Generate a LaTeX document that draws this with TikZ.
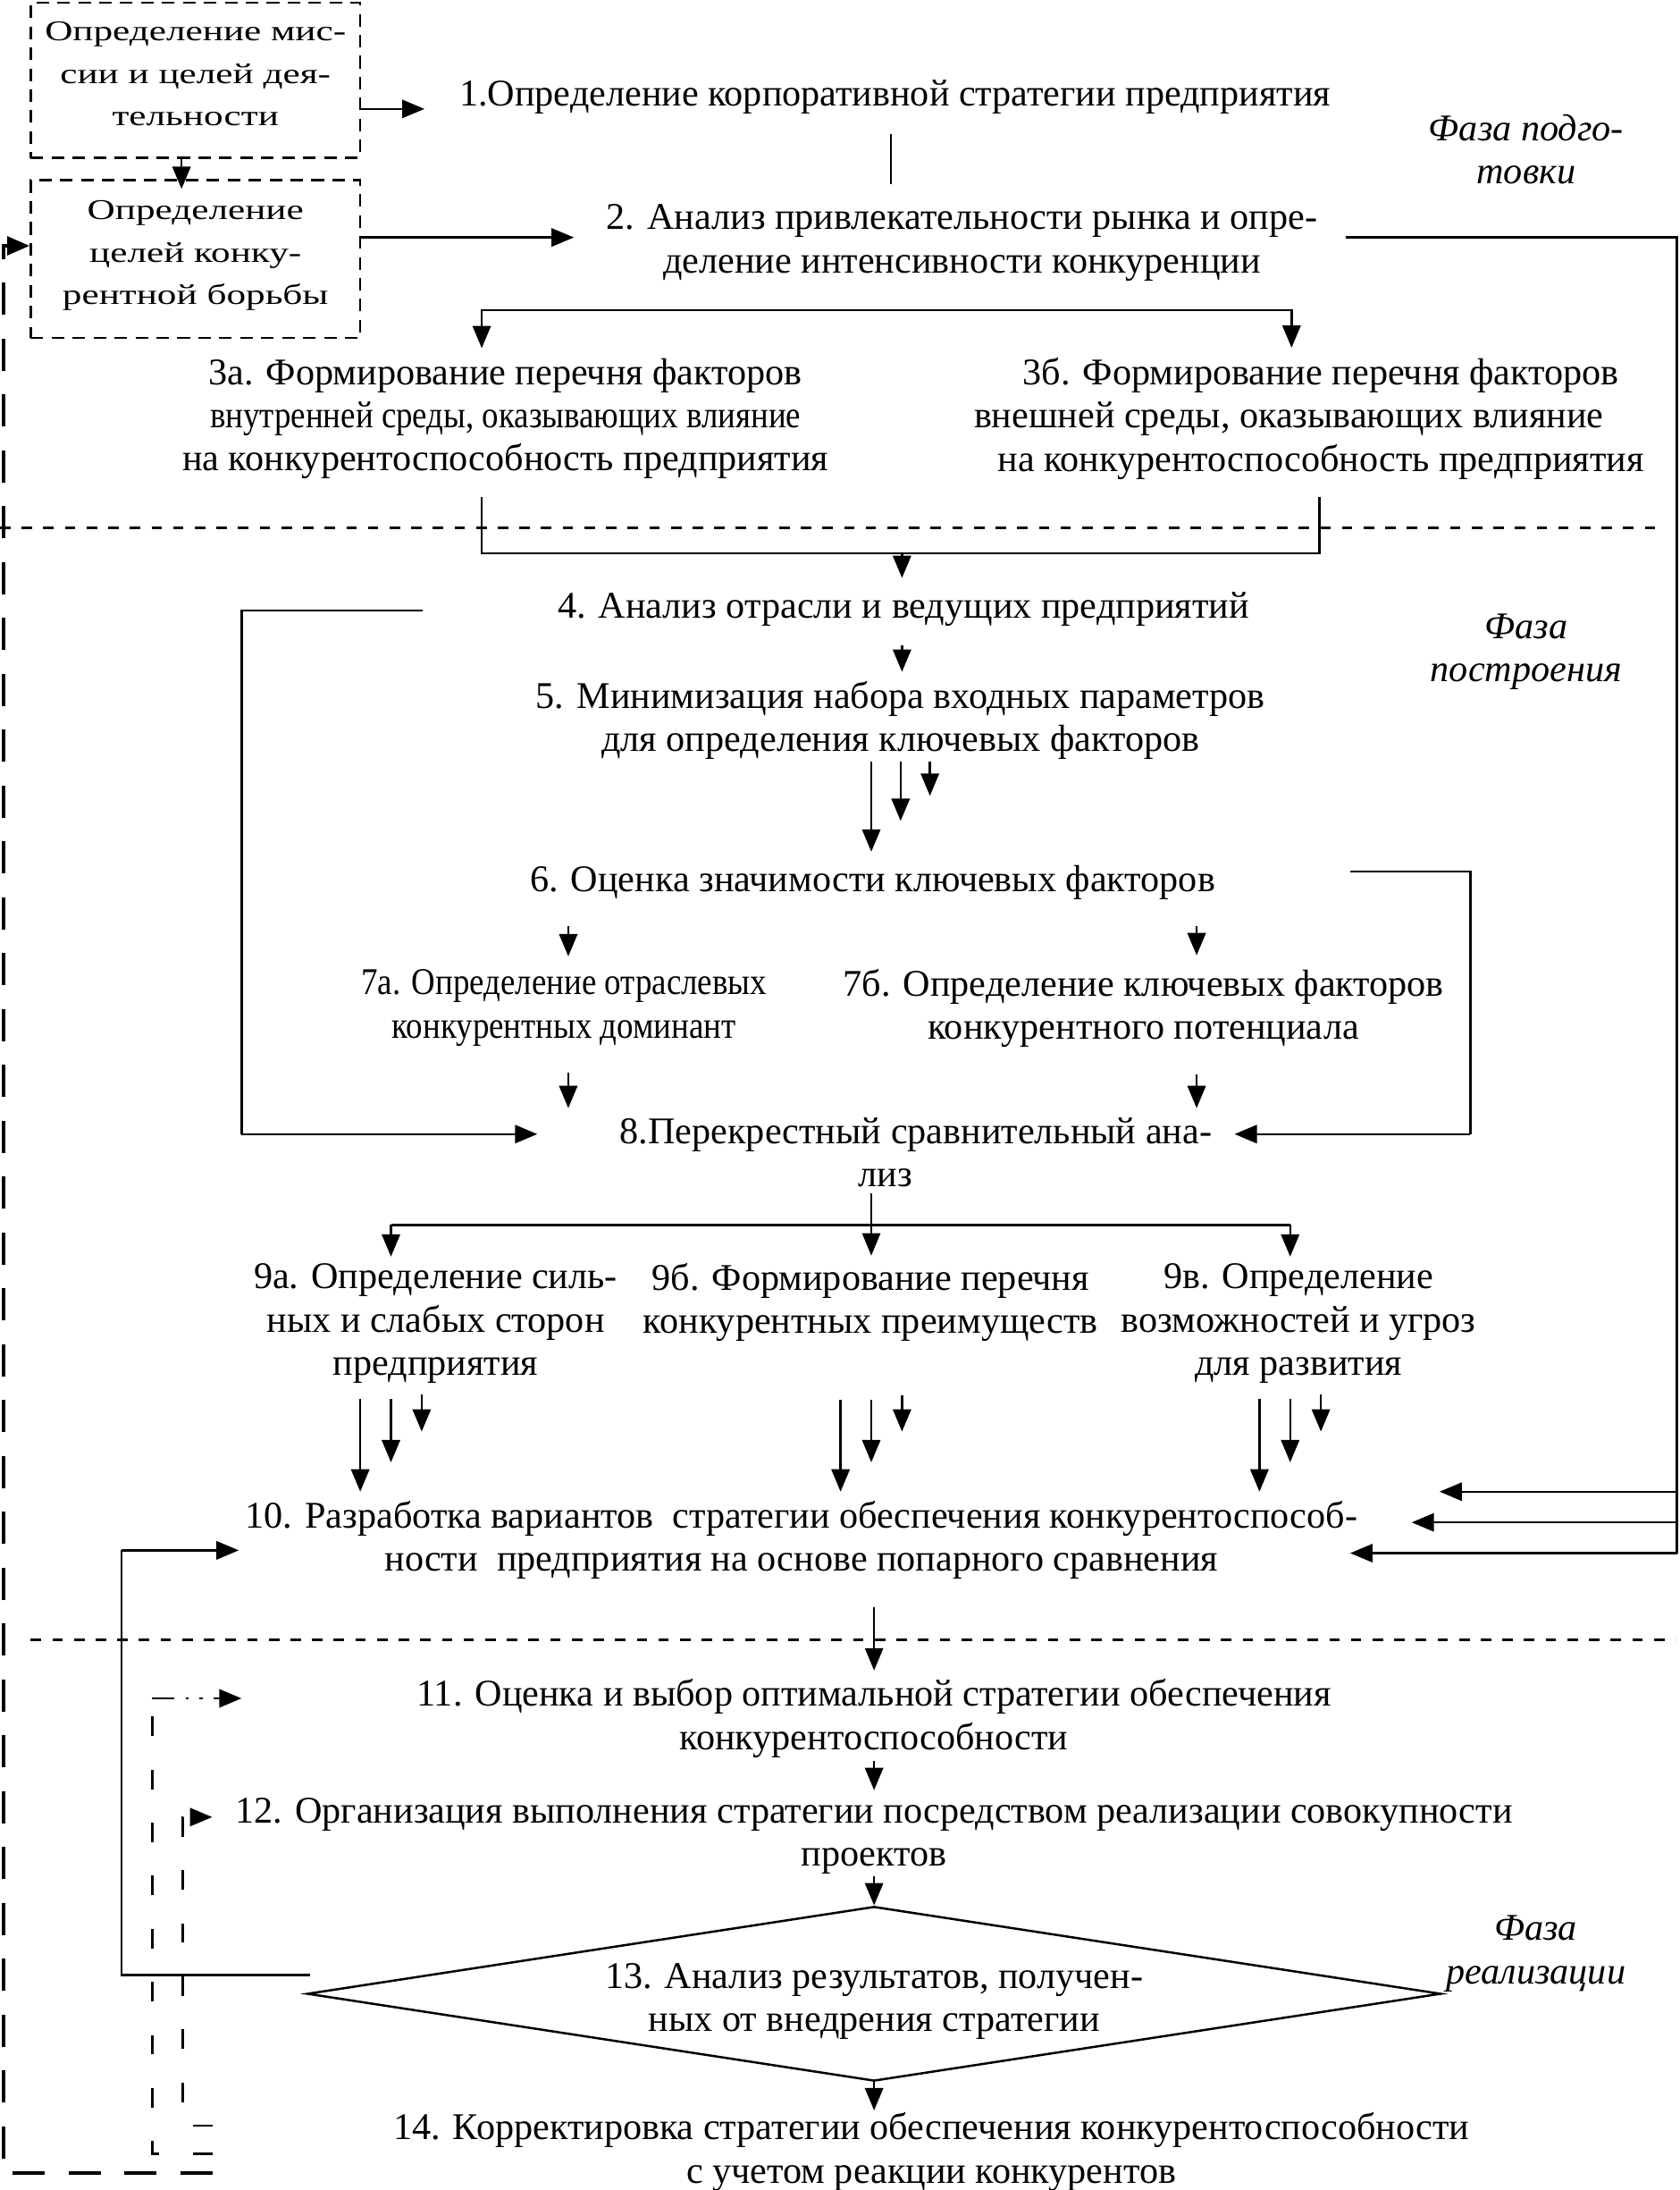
\documentclass[tikz,border=0pt]{standalone}
\usepackage{fontspec}
\setmainfont{Liberation Serif}
\newfontfamily\boxfont{Liberation Serif}[FakeStretch=1.35]
\newfontfamily\condfont{Liberation Serif}[FakeStretch=0.875]
\usetikzlibrary{arrows.meta,shapes.geometric}
\newcommand{\mainfs}{\fontsize{27pt}{31pt}\selectfont}
\newcommand{\boxfs}{\boxfont\fontsize{20.5pt}{30.5pt}\selectfont}
\newcommand{\condfs}{\condfont\fontsize{27pt}{31pt}\selectfont}
\begin{document}
\begin{tikzpicture}[x=1pt,y=-1pt,
  txt/.style={inner sep=0pt, align=center, font=\mainfs, execute at begin node=\strut, execute at end node=\strut},
  ph/.style={txt, font=\mainfs\itshape},
  dbox/.style={draw, line width=1.5pt, dash pattern=on 9pt off 6pt, minimum width=236pt, inner sep=0pt, align=center, font=\boxfs, execute at begin node=\strut, execute at end node=\strut},
  ln/.style={line width=1.6pt},
  tip/.style={-{Triangle[length=16pt,width=13pt]}},
  arr/.style={ln, tip},
  sep/.style={line width=1.5pt, dash pattern=on 7.5pt off 8pt},
  fbthick/.style={line width=2.8pt, dash pattern=on 23pt off 17pt, tip},
  fbdash/.style={line width=1.7pt, dash pattern=on 14pt off 24pt},
  fbdd/.style={line width=1.7pt, dash pattern=on 16pt off 8pt on 2pt off 8pt on 2pt off 8pt, tip},
]
\useasboundingbox (0,0) rectangle (1203,1568);

% ---------- nodes ----------
\node[dbox, minimum height=111pt] (boxA) at (140,57.5) {Определение мис-\\сии и целей дея-\\тельности};
\node[dbox, minimum height=113pt] (boxB) at (140,185.5) {Определение\\целей конку-\\рентной борьбы};
\node[txt] (n1) at (641,69.5) {1.Определение корпоративной стратегии предприятия};
\node[txt] (n2) at (689,175.5) {2. Анализ привлекательности рынка и опре-\\деление интенсивности конкуренции};
\node[txt] (n3a) at (362,301.5) {3а. Формирование перечня факторов\\{\condfs внутренней среды, оказывающих влияние}\\на конкурентоспособность предприятия};
\node[txt] (n3b) at (946,301.5) {3б. Формирование перечня факторов\\внешней среды, оказывающих влияние\hspace*{46pt}\strut\\на конкурентоспособность предприятия};
\node[txt] (n4) at (647,436.5) {4. Анализ отрасли и ведущих предприятий};
\node[txt] (n5) at (645,517.5) {5. Минимизация набора входных параметров\\для определения ключевых факторов};
\node[txt] (n6) at (625,632.5) {6. Оценка значимости ключевых факторов};
\node[txt, font=\condfs] (n7a) at (404,723.5) {7а. Определение отраслевых\\конкурентных доминант};
\node[txt] (n7b) at (819,723.5) {7б. Определение ключевых факторов\\конкурентного потенциала};
\node[txt] (n8) at (656,829.5) {8.Перекрестный сравнительный ана-\\лиз\hspace*{44pt}};
\node[txt] (n9a) at (312,949.5) {9а. Определение силь-\\ных и слабых сторон\\предприятия};
\node[txt] (n9b) at (623.5,934) {9б. Формирование перечня\\конкурентных преимуществ};
\node[txt] (n9c) at (930,949.5) {9в. Определение\\возможностей и угроз\\для развития};
\node[txt] (n10) at (574,1104.5) {10. Разработка вариантов\ \ стратегии обеспечения конкурентоспособ-\\ности\ \ предприятия на основе попарного сравнения};
\node[txt] (n11) at (626,1232) {11. Оценка и выбор оптимальной стратегии обеспечения\\конкурентоспособности};
\node[txt] (n12) at (626,1316.5) {12. Организация выполнения стратегии посредством реализации совокупности\\проектов};
\node[draw, diamond, ln, aspect=6.5, minimum width=812pt, minimum height=125pt, inner sep=0pt, font=\mainfs] (n13) at (626,1427.5)
  {\raisebox{3.8pt}[25pt][25pt]{\begin{tabular}[t]{@{}c@{}}13. Анализ результатов, получен-\\ных от внедрения стратегии\end{tabular}}};
\node[txt] (n14) at (667,1542.5) {14. Корректировка стратегии обеспечения конкурентоспособности\\с учетом реакции конкурентов};
\node[ph] (ph1) at (1093,111.5) {Фаза подго-\\товки};
\node[ph] (ph2) at (1093,468.5) {Фаза\\построения};
\node[ph] (ph3) at (1100,1400.5) {Фаза\\реализации};

% ---------- coordinates ----------
\coordinate (cA1) at (304,78);
\coordinate (x130) at (130,0);
\coordinate (x638) at (638,0);
\coordinate (cB2) at (411,170);
\coordinate (cR) at (1201,170);
\coordinate (cR1) at (1201,1068);
\coordinate (cR2) at (1201,1090);
\coordinate (cR3) at (1201,1112);
\coordinate (t10a) at (1031,1068);
\coordinate (t10b) at (1011,1090);
\coordinate (t10c) at (967,1112);
\coordinate (j2) at (638,222);
\coordinate (x345) at (345,0);
\coordinate (x925) at (925,0);
\coordinate (x945) at (945,0);
\coordinate (j4) at (646,396);
\coordinate (x646) at (646,0);
\coordinate (x624) at (624,0);
\coordinate (x645) at (645,0);
\coordinate (x666) at (666,0);
\coordinate (c4l) at (303,437);
\coordinate (c4c) at (173,437);
\coordinate (c8l) at (173,812);
\coordinate (c6r) at (967,624);
\coordinate (c6c) at (1053,624);
\coordinate (c8r) at (1053,812);
\coordinate (x407) at (407,0);
\coordinate (x857) at (857,0);
\coordinate (j9) at (624,877);
\coordinate (x280) at (280,0);
\coordinate (x924) at (924,0);
\coordinate (x627) at (626,0);
\coordinate (c13l) at (222,1414);
\coordinate (c13c) at (87,1414);
\coordinate (c10l) at (87,1110);
\coordinate (e1) at (152,1556);
\coordinate (e1c) at (2.5,1556);
\coordinate (e1t) at (2.5,176);
\coordinate (e2) at (152,1542);
\coordinate (e2c) at (109,1542);
\coordinate (e2t) at (109,1216);
\coordinate (t11) at (173,1216);
\coordinate (e3) at (152,1522);
\coordinate (e3c) at (131,1522);
\coordinate (e3t) at (131,1301);
\coordinate (t12) at (152,1301);

% ---------- phase separators ----------
\draw[sep] (0,378) -- (1185,378);
\draw[sep] (22,1174) -- (1200,1174);

% ---------- connectors ----------
\draw[arr] (boxA.east |- cA1) -- (cA1);
\draw[arr, shorten >=-7pt] (boxA.south -| x130) -- (boxB.north -| x130);
\draw[ln, shorten <=11pt, shorten >=14.5pt] (n1.south -| x638) -- (n2.north -| x638);
\draw[arr] (boxB.east |- cB2) -- (cB2);
% right feedback to 10
\draw[ln, shorten <=20pt] (n2.east |- cR) -- (cR) -- (cR3);
\draw[arr] (cR1) -- (t10a);
\draw[arr] (cR2) -- (t10b);
\draw[arr] (cR3) -- (t10c);
% 2 -> 3a, 3b
\draw[arr, shorten >=7pt] (j2) -| (n3a.north -| x345);
\draw[arr, shorten >=7pt] (j2) -| (n3b.north -| x925);
% 3a, 3b -> 4
\draw[ln, shorten <=9pt] (n3a.south -| x345) |- (j4);
\draw[ln, shorten <=9pt] (n3b.south -| x945) |- (j4);
\draw[arr, shorten >=7pt] (j4) -- (n4.north -| x646);
% 4 -> 5
\draw[arr, shorten <=10pt, shorten >=6.5pt] (n4.south -| x646) -- (n5.north -| x646);
% 4 -> 8 loop
\draw[ln] (c4l) -- (c4c) -- (c8l);
\draw[arr, shorten >=59pt] (c8l) -- (n8.west |- c8l);
% 5 -> 6 triple
\draw[arr, shorten <=-2.5pt, shorten >=7pt] (n5.south -| x624) -- (n6.north -| x624);
\draw[arr, shorten <=-2.5pt, shorten >=29pt] (n5.south -| x645) -- (n6.north -| x645);
\draw[arr, shorten <=-2.5pt, shorten >=47pt] (n5.south -| x666) -- (n6.north -| x666);
% 6 -> 7a, 7b
\draw[arr, shorten <=15pt, shorten >=9.5pt] (n6.south -| x407) -- (n7a.north -| x407);
\draw[arr, shorten <=15pt, shorten >=9.5pt] (n6.south -| x857) -- (n7b.north -| x857);
% 6 -> 8 loop
\draw[ln] (c6r) -- (c6c) -- (c8r);
\draw[arr, shorten >=16pt] (c8r) -- (n8.east |- c8r);
% 7 -> 8
\draw[arr, shorten <=15.5pt, shorten >=6.5pt] (n7a.south -| x407) -- (n8.north -| x407);
\draw[arr, shorten <=15.5pt, shorten >=6.5pt] (n7b.south -| x857) -- (n8.north -| x857);
% 8 -> 9
\draw[line width=2.2pt] (j9 -| x280) -- (j9 -| x924);
\draw[line width=1pt, tip, shorten <=-4.5pt, shorten >=5pt] (n8.south -| j9) -- (n9b.north -| j9);
\draw[arr, shorten >=5pt] (j9 -| x280) -- (n9a.north -| x280);
\draw[arr, shorten >=5pt] (j9 -| x924) -- (n9c.north -| x924);
% 9 -> 10 triples
\foreach \nn/\xa/\dd in {n9a/258/7, n9b/602/38, n9c/902/7}{
  \draw[arr, shorten >=6.5pt] (\nn.south -| \xa,0) ++(0,\dd) -- (n10.north -| \xa,0);
  \draw[arr, shorten >=27.5pt] (\nn.south -| \xa+22,0) ++(0,\dd) -- (n10.north -| \xa+22,0);
  \draw[arr, shorten >=49.5pt] (\nn.south -| \xa+44,0) ++(0,\dd-3) -- (n10.north -| \xa+44,0);
}
% 10 -> 11 -> 12 -> 13 -> 14
\draw[arr, shorten <=16.5pt, shorten >=6pt] (n10.south -| x627) -- (n11.north -| x627);
\draw[arr, shorten <=-1pt, shorten >=5.5pt] (n11.south -| x627) -- (n12.north -| x627);
\draw[arr, shorten <=-2.5pt] (n12.south -| x627) -- (n13.north -| x627);
\draw[arr, shorten >=1.5pt] (n13.south -| x627) -- (n14.north -| x627);
% 13 -> 10 loop
\draw[ln] (c13l) -- (c13c) -- (c10l);
\draw[arr, shorten >=4.5pt] (c10l) -- (n10.west |- c10l);
% dashed feedback from 14
\draw[fbthick] (e1) -- (e1c) -- (e1t) -- (boxB.west |- e1t);
\draw[fbdash] (e2) -- (e2c) -- (e2t);
\draw[fbdd] (e2t) -- (t11);
\draw[fbdash, tip] (e3) -- (e3c) -- (e3t) -- (t12);
\end{tikzpicture}
\end{document}
